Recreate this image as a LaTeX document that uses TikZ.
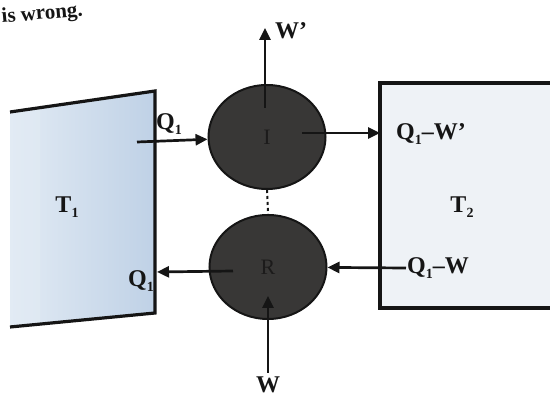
\documentclass[tikz,border=0pt]{standalone}
\usepackage{fontspec}
\setmainfont{Liberation Serif}
\usetikzlibrary{arrows.meta,shapes.geometric}
\definecolor{enginefill}{HTML}{383736}
\definecolor{enginetext}{HTML}{1C1B1B}
\definecolor{hotlight}{HTML}{E2EBF4}
\definecolor{hotdark}{HTML}{BFD1E6}
\definecolor{coldfill}{HTML}{EEF2F6}
\definecolor{inkc}{HTML}{151515}
\newcommand\lowidx[1]{\raisebox{-0.4ex}{\fontsize{14}{14}\selectfont #1}}
\begin{document}
\begin{tikzpicture}[x=1pt,y=-1pt,
  lbl/.style={font=\fontsize{24}{26}\selectfont\bfseries, text=inkc, inner sep=1pt},
  enginenode/.style={ellipse, draw=inkc, line width=2, fill=enginefill,
     minimum width=117, minimum height=104, inner sep=0pt,
     font=\fontsize{22}{24}\selectfont, text=enginetext},
  arr/.style={draw=inkc, line width=2.7, -{Triangle[length=12,width=11]}},
  res/.style={draw=inkc, line width=3.2}]
\useasboundingbox (0,0) rectangle (550,398);

% heading fragment
\node[lbl, anchor=base west, rotate=5, font=\fontsize{21}{24}\selectfont\bfseries] (head) at (1,23) {is wrong.};

% hot reservoir T1
\shade[left color=hotlight, right color=hotdark, shading angle=90]
  (10,112) -- (155,91) -- (155,313) -- (10,327) -- cycle;
\fill[hotlight, opacity=0.6] (10,112) -- (40,108) -- (40,324) -- (10,327) -- cycle;
\draw[res] (10,112) -- (155,91) -- (155,313) -- (10,327);

% cold reservoir T2
\fill[coldfill] (380,83) rectangle (552,308);
\draw[res] (552,83) -- (380,83) -- (380,308) -- (552,308);

% engines
\node[enginenode] (I) at (267,137) {I};
\node[enginenode] (R) at (268,267) {R};
\draw[inkc, line width=2, dash pattern=on 3 off 3] (I.south) -- (R.north);

% labels
\node[lbl] (T1) at (67,207) {T\lowidx{1}};
\node[lbl] (T2) at (462,207) {T\lowidx{2}};
\node[lbl] (q1a) at (169,124) {Q\lowidx{1}};
\node[lbl] (q1b) at (141,281) {Q\lowidx{1}};
\node[lbl, anchor=west] (qwp) at (395,134) {Q\lowidx{1}–W'};
\node[lbl, anchor=west] (qw) at (406,268) {Q\lowidx{1}–W};
\node[lbl, anchor=west] (wp) at (274,31) {W'};
\node[lbl] (w) at (268,385) {W};

% connectors
\coordinate (q1s) at (137,142);
\draw[arr] (q1s) -- (I);
\coordinate (wps) at (265,108);
\coordinate (wpt) at (265,28);
\draw[arr] (wps) -- (wpt);
\coordinate (is) at (302,133);
\coordinate (it) at (380,133);
\draw[arr] (is) -- (it);
\coordinate (rs) at (233,271);
\coordinate (rt) at (157,272);
\draw[arr] (rs) -- (rt);
\draw[arr] (qw.west) -- (R);
\coordinate (ws) at (268,373);
\coordinate (wt) at (268,296);
\draw[arr] (ws) -- (wt);
\end{tikzpicture}
\end{document}
